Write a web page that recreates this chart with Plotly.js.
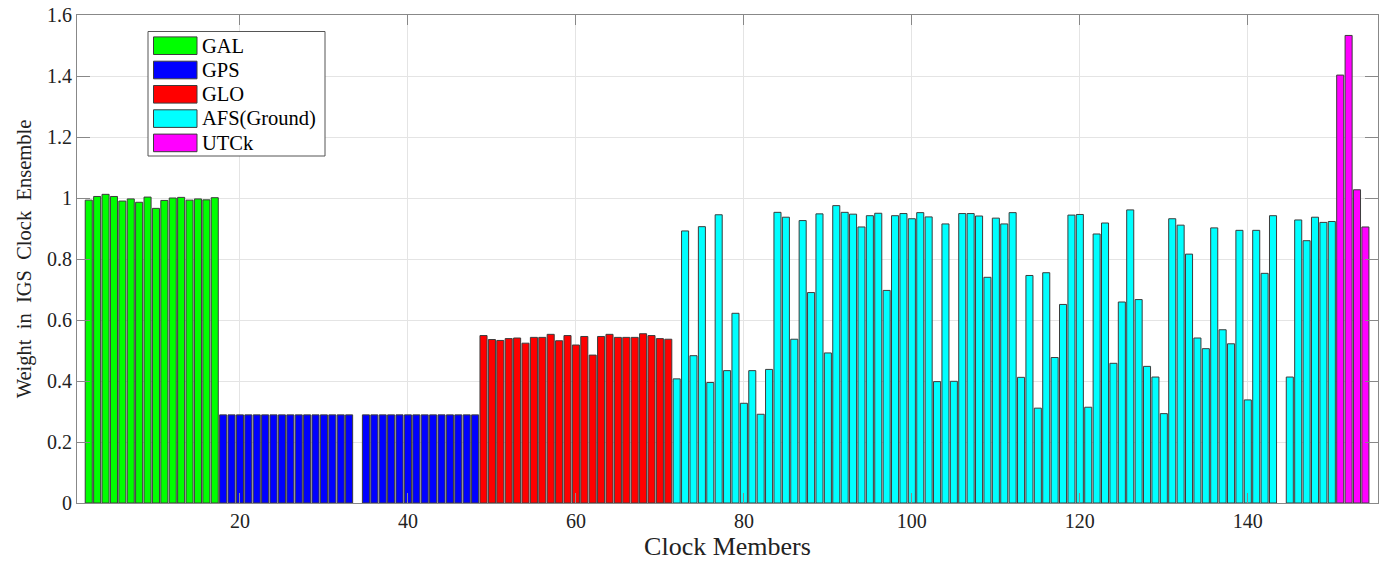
<!DOCTYPE html>
<html>
<head>
<meta charset="utf-8">
<script src="https://cdn.plot.ly/plotly-3.0.1.min.js"></script>
<style>html,body{margin:0;padding:0;background:#fff;}#chart{width:1386px;height:565px;}</style>
</head>
<body>
<div id="chart"></div>
<script>
// Series names and colours
const seriesNames = ["GAL", "GPS", "GLO", "AFS(Ground)", "UTCk"];
const seriesColors = ["#00ff00", "#0000ff", "#ff0000", "#00ffff", "#ff00ff"];

// GAL: members 2..17
const galX = [2,3,4,5,6,7,8,9,10,11,12,13,14,15,16,17];
const galY = [0.993,1.005,1.012,1.005,0.990,0.997,0.986,1.003,0.966,0.992,1.000,1.002,0.993,0.997,0.994,1.001];

// GPS: members 18..33 and 35..48 (34 missing)
const gpsX = [18,19,20,21,22,23,24,25,26,27,28,29,30,31,32,33,35,36,37,38,39,40,41,42,43,44,45,46,47,48];
const gpsY = [0.289,0.289,0.289,0.289,0.289,0.289,0.289,0.289,0.289,0.289,0.289,0.289,0.289,0.289,0.289,0.289,
              0.289,0.289,0.289,0.289,0.289,0.289,0.289,0.289,0.289,0.289,0.289,0.289,0.289,0.289];

// GLO: members 49..71
const gloX = [49,50,51,52,53,54,55,56,57,58,59,60,61,62,63,64,65,66,67,68,69,70,71];
const gloY = [0.549,0.536,0.533,0.539,0.541,0.524,0.543,0.543,0.553,0.532,0.549,0.518,0.546,0.485,0.546,0.553,0.543,0.543,0.543,0.555,0.549,0.539,0.537];

// AFS(Ground): members 72..143 and 145..150 (144 missing)
const afsX = [72,73,74,75,76,77,78,79,80,81,82,83,84,85,86,87,88,89,90,91,92,93,94,95,96,97,98,99,100,
              101,102,103,104,105,106,107,108,109,110,111,112,113,114,115,116,117,118,119,120,
              121,122,123,124,125,126,127,128,129,130,131,132,133,134,135,136,137,138,139,140,
              141,142,143,145,146,147,148,149,150];
const afsY = [0.407,0.892,0.483,0.906,0.395,0.945,0.434,0.622,0.327,0.434,0.291,0.438,0.953,0.937,0.537,0.926,0.690,0.948,0.492,0.975,0.953,0.947,0.905,0.942,0.950,0.697,0.942,0.949,0.932,
              0.952,0.938,0.398,0.915,0.399,0.949,0.949,0.941,0.740,0.934,0.915,0.952,0.412,0.746,0.311,0.755,0.477,0.651,0.944,0.946,
              0.314,0.882,0.918,0.458,0.659,0.961,0.667,0.448,0.413,0.293,0.932,0.911,0.816,0.541,0.506,0.902,0.568,0.522,0.894,0.338,
              0.894,0.753,0.942,0.413,0.928,0.860,0.937,0.920,0.923];

// UTCk: members 151..154
const utcX = [151,152,153,154];
const utcY = [1.403,1.533,1.027,0.905];

// Axis ticks
const xTicks = [20,40,60,80,100,120,140];
const yTicks = [0,0.2,0.4,0.6,0.8,1,1.2,1.4,1.6];
const yTickText = ["0","0.2","0.4","0.6","0.8","1","1.2","1.4","1.6"];

const xs = [galX, gpsX, gloX, afsX, utcX];
const ys = [galY, gpsY, gloY, afsY, utcY];

const edge = "#3c3c3c";
const traces = seriesNames.map((n, i) => ({
  type: "bar",
  name: n,
  x: xs[i],
  y: ys[i],
  width: 0.84,
  marker: {color: seriesColors[i], line: {color: edge, width: 1}},
  showlegend: false,
  hoverinfo: "x+y+name"
}));

const serif = "Liberation Serif, Times New Roman, serif";

// Custom legend (box, swatches, labels) in paper coordinates
const plotTop = 15, plotH = 488, plotL = 77, plotW = 1301;
const px2x = p => (p - plotL) / plotW;
const px2y = p => (plotTop + plotH - p) / plotH;
const shapes = [];
const annotations = [];
shapes.push({type: "rect", xref: "paper", yref: "paper",
  x0: px2x(148), x1: px2x(325), y0: px2y(156), y1: px2y(31.5),
  line: {color: "#555", width: 1}, fillcolor: "#fff", layer: "above"});
seriesNames.forEach((n, i) => {
  const cy = 45.7 + i * 24.3;
  shapes.push({type: "rect", xref: "paper", yref: "paper",
    x0: px2x(153.5), x1: px2x(197), y0: px2y(cy + 8.8), y1: px2y(cy - 8.8),
    line: {color: edge, width: 1}, fillcolor: seriesColors[i], layer: "above"});
  annotations.push({xref: "paper", yref: "paper", x: px2x(200), y: px2y(cy),
    xanchor: "left", yanchor: "middle", showarrow: false, text: n,
    font: {family: serif, size: 20.5, color: "#000"}});
});

const axisCommon = {
  showline: true, linecolor: "#888", linewidth: 1, mirror: "ticks",
  ticks: "inside", tickcolor: "#888", tickwidth: 1,
  showgrid: true, gridcolor: "#e4e4e4", gridwidth: 1,
  zeroline: false,
  tickfont: {family: serif, size: 20, color: "#222"}
};

const layout = {
  width: 1386, height: 565,
  margin: {l: 77, r: 8, t: 15, b: 62},
  paper_bgcolor: "#fff", plot_bgcolor: "#fff",
  barmode: "overlay",
  xaxis: Object.assign({}, axisCommon, {
    range: [0.6, 155.5], tickvals: xTicks, ticklen: 10,
    title: {text: "Clock Members", font: {family: serif, size: 26, color: "#222"}, standoff: 5}
  }),
  yaxis: Object.assign({}, axisCommon, {
    range: [0, 1.6], tickvals: yTicks, ticktext: yTickText, ticklen: 13,
    title: {text: "Weight  in  IGS  Clock  Ensemble", font: {family: serif, size: 20.5, color: "#222"}, standoff: 9}
  }),
  shapes: shapes,
  annotations: annotations
};

Plotly.newPlot("chart", traces, layout, {displayModeBar: false, staticPlot: true});
</script>
</body>
</html>
